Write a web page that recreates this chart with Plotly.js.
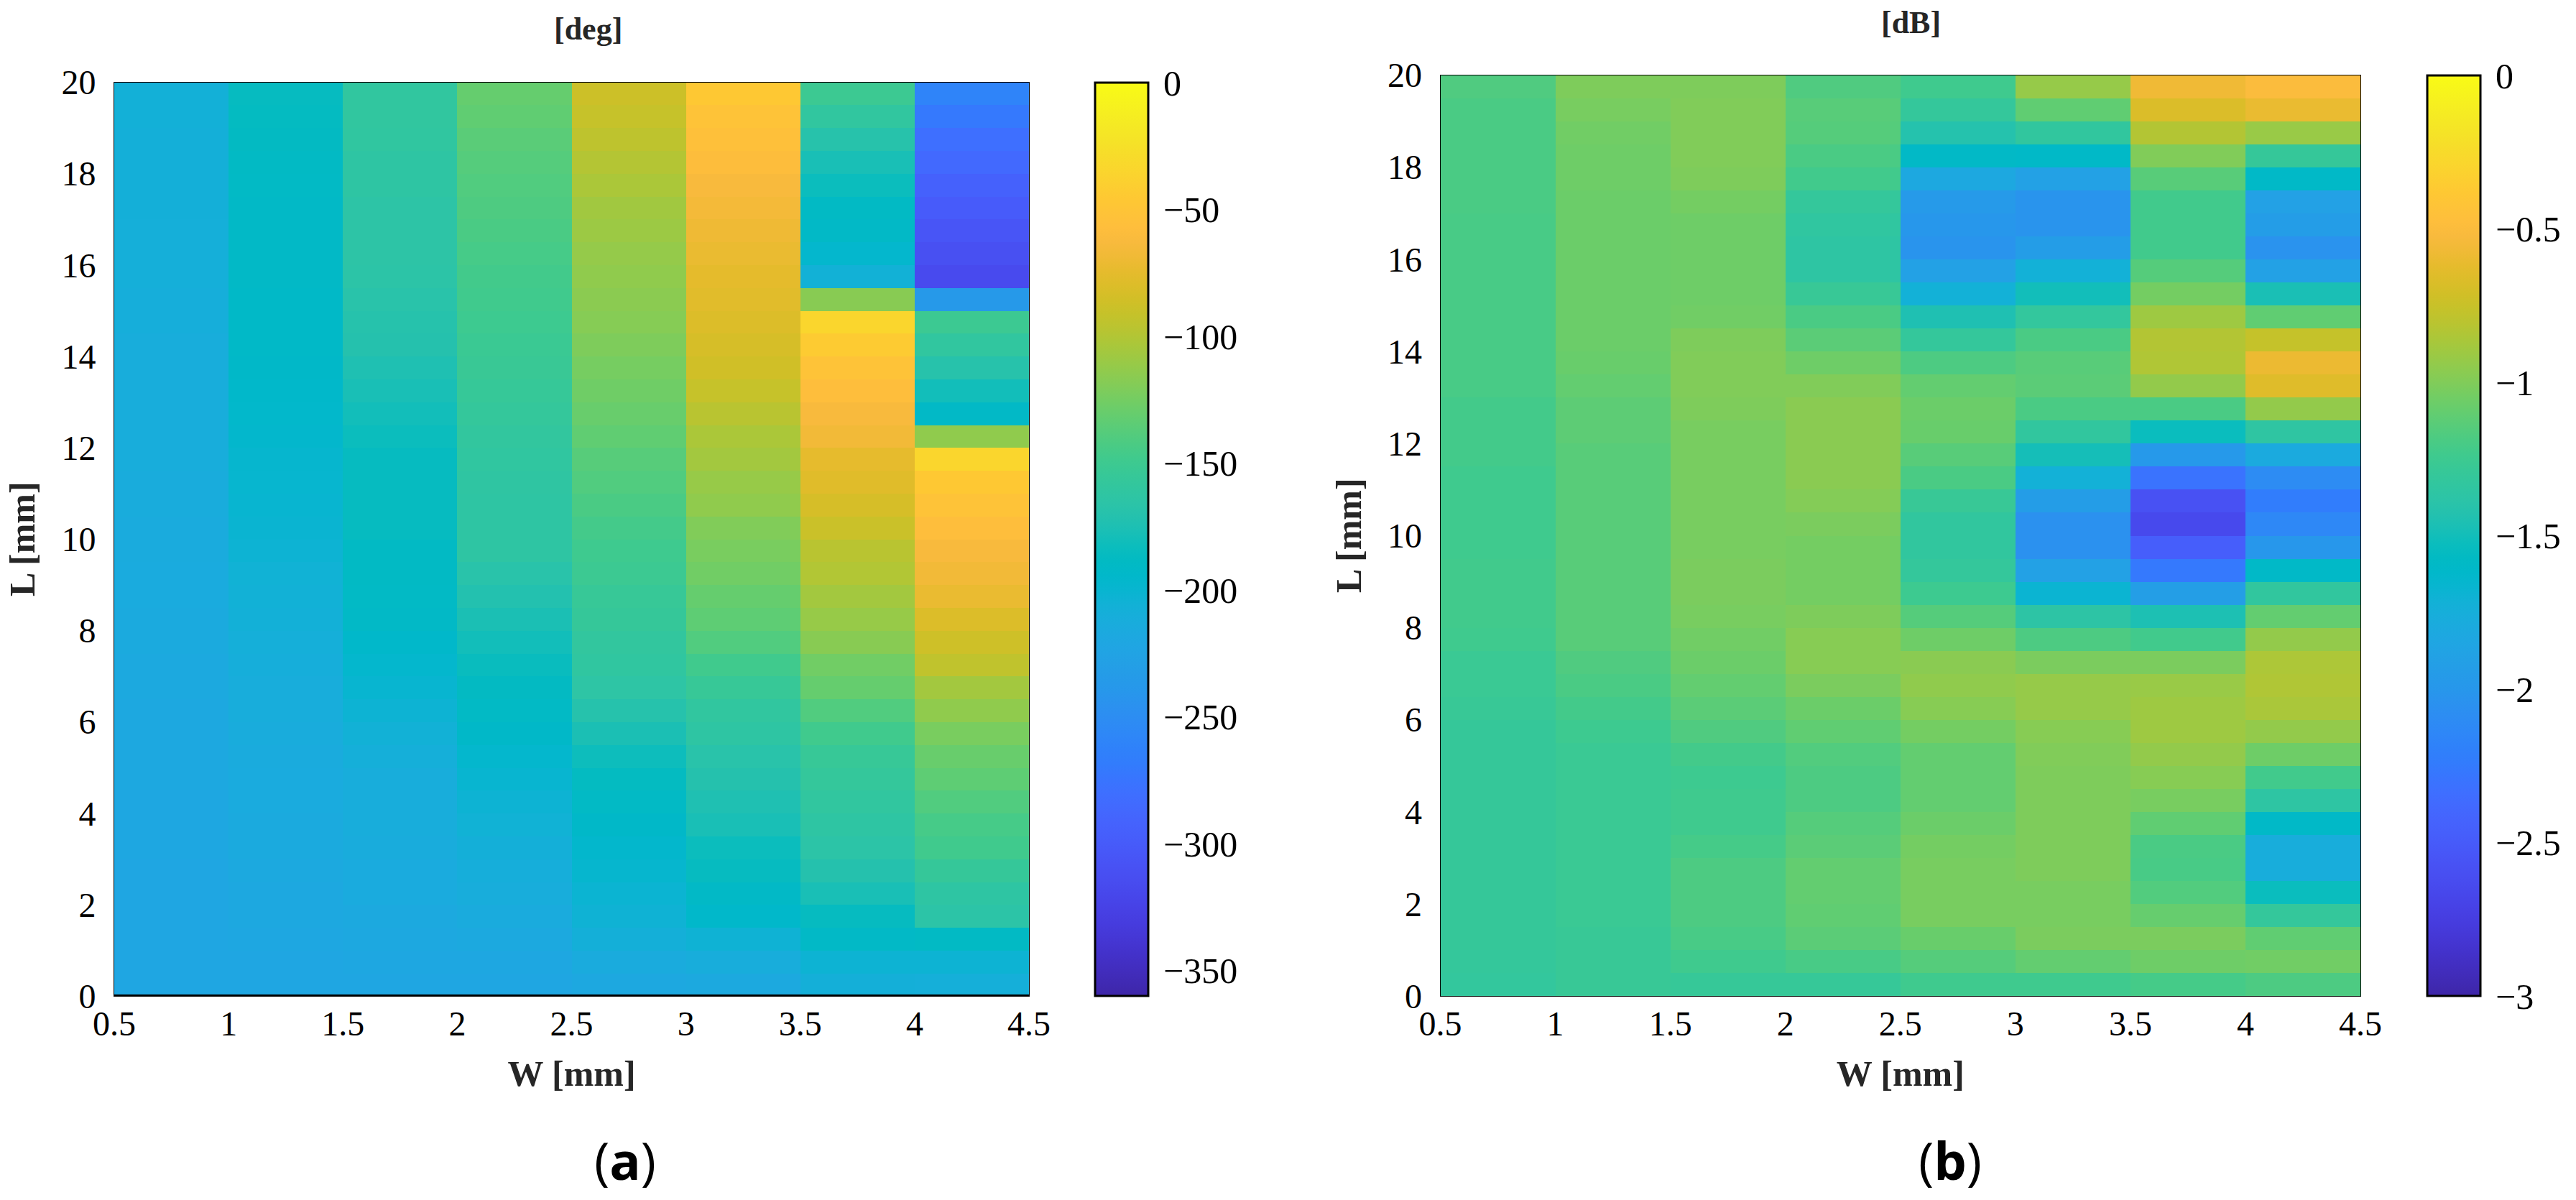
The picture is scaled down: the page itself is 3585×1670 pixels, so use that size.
<!DOCTYPE html>
<html>
<head>
<meta charset="utf-8">
<script src="https://cdn.plot.ly/plotly-3.0.1.min.js"></script>
<style>html,body{margin:0;padding:0;background:#fff}</style>
</head>
<body>
<div id="chart" style="width:3585px;height:1670px"></div>
<script>
// Cell edges
const widthEdges = [0.5,1,1.5,2,2.5,3,3.5,4,4.5];
const lengthEdges = [0,0.5,1,1.5,2,2.5,3,3.5,4,4.5,5,5.5,6,6.5,7,7.5,8,8.5,9,9.5,10,10.5,11,11.5,12,12.5,13,13.5,14,14.5,15,15.5,16,16.5,17,17.5,18,18.5,19,19.5,20];
const xTicks = [0.5,1,1.5,2,2.5,3,3.5,4,4.5];
const yTicks = [0,2,4,6,8,10,12,14,16,18,20];
const phaseTicks = [-350,-300,-250,-200,-150,-100,-50,0];
const gainTicks = [-3,-2.5,-2,-1.5,-1,-0.5,0];

// Panel (a), phase in degrees: one list per W column, from L = 20 down to L = 0
const phaseW1 = [-207,-207,-208,-208,-208,-208,-209,-209,-209,-210,-210,-211,-211,-211,-212,-212,-212,-213,-213,-214,-214,-215,-215,-216,-216,-217,-217,-218,-218,-219,-219,-220,-220,-220,-221,-221,-221,-222,-222,-222];
const phaseW2 = [-186,-187,-188,-189,-190,-191,-191,-191,-191,-192,-192,-192,-193,-194,-195,-196,-198,-199,-200,-201,-203,-205,-206,-207,-209,-210,-211,-212,-213,-214,-215,-215,-216,-216,-217,-218,-218,-220,-221,-222];
const phaseW3 = [-160,-160,-161,-163,-163,-165,-165,-165,-166,-168,-170,-171,-174,-177,-180,-183,-186,-186,-186,-186,-189,-189,-190,-191,-194,-197,-200,-203,-206,-209,-211,-211,-211,-213,-215,-215,-217,-219,-220,-221];
const phaseW4 = [-131,-133,-136,-138,-140,-141,-143,-145,-147,-148,-150,-152,-153,-155,-157,-159,-161,-162,-163,-163,-163,-168,-172,-176,-180,-184,-188,-190,-193,-197,-200,-203,-205,-208,-210,-212,-214,-217,-220,-221];
const phaseW5 = [-88,-91,-95,-99,-103,-107,-109,-112,-114,-116,-118,-121,-124,-127,-130,-133,-137,-140,-143,-146,-149,-151,-154,-156,-159,-161,-164,-170,-176,-182,-187,-190,-193,-196,-198,-202,-204,-208,-214,-219];
const phaseW6 = [-46,-51,-55,-58,-63,-66,-69,-72,-75,-77,-80,-83,-86,-91,-97,-103,-106,-111,-114,-120,-123,-126,-131,-134,-140,-148,-154,-160,-163,-168,-171,-174,-177,-183,-186,-191,-194,-204,-211,-217];
const phaseW7 = [-151,-160,-169,-177,-183,-189,-191,-197,-206,-117,-34,-43,-51,-57,-63,-67,-74,-78,-83,-89,-97,-100,-106,-111,-117,-126,-131,-140,-148,-154,-157,-160,-163,-166,-171,-177,-186,-191,-203,-208];
const phaseW8 = [-260,-271,-280,-286,-294,-300,-306,-311,-317,-237,-151,-160,-169,-180,-191,-114,-34,-46,-51,-57,-63,-67,-72,-80,-87,-94,-106,-114,-123,-130,-134,-140,-145,-148,-156,-163,-166,-189,-203,-209];

// Panel (b), magnitude in dB: one list per W column, from L = 20 down to L = 0
const gainW1 = [-1.17,-1.19,-1.19,-1.19,-1.19,-1.19,-1.2,-1.2,-1.2,-1.2,-1.2,-1.2,-1.2,-1.2,-1.22,-1.22,-1.22,-1.24,-1.24,-1.24,-1.24,-1.23,-1.23,-1.23,-1.24,-1.27,-1.27,-1.28,-1.3,-1.3,-1.3,-1.3,-1.3,-1.3,-1.3,-1.3,-1.3,-1.3,-1.31,-1.32];
const gainW2 = [-1.01,-1.03,-1.05,-1.06,-1.06,-1.07,-1.07,-1.07,-1.07,-1.07,-1.07,-1.07,-1.08,-1.1,-1.12,-1.12,-1.14,-1.14,-1.14,-1.14,-1.14,-1.14,-1.14,-1.14,-1.14,-1.17,-1.19,-1.22,-1.25,-1.27,-1.27,-1.27,-1.27,-1.27,-1.27,-1.27,-1.27,-1.28,-1.28,-1.28];
const gainW3 = [-1.01,-1,-1,-1,-1.01,-1.04,-1.06,-1.06,-1.06,-1.06,-1.05,-1.01,-1,-1,-1.01,-1.03,-1.03,-1.03,-1.03,-1.03,-1.03,-1.02,-1.02,-1.03,-1.05,-1.07,-1.1,-1.13,-1.17,-1.22,-1.25,-1.24,-1.24,-1.21,-1.18,-1.18,-1.18,-1.2,-1.24,-1.29];
const gainW4 = [-1.17,-1.14,-1.15,-1.19,-1.23,-1.31,-1.34,-1.36,-1.36,-1.28,-1.19,-1.13,-1.06,-1,-0.97,-0.97,-0.97,-0.97,-0.99,-1.02,-1.04,-1.04,-1.04,-1.01,-0.98,-0.98,-1.02,-1.07,-1.11,-1.16,-1.18,-1.18,-1.15,-1.13,-1.1,-1.1,-1.11,-1.13,-1.2,-1.29];
const gainW5 = [-1.24,-1.31,-1.42,-1.59,-1.82,-1.97,-2,-2.02,-1.9,-1.72,-1.45,-1.31,-1.18,-1.1,-1.07,-1.08,-1.14,-1.19,-1.28,-1.33,-1.33,-1.31,-1.25,-1.15,-1.06,-0.97,-0.95,-0.98,-1.04,-1.1,-1.1,-1.1,-1.07,-1.04,-1.03,-1.03,-1.03,-1.08,-1.15,-1.24];
const gainW6 = [-0.93,-1.11,-1.33,-1.6,-1.9,-2.02,-2.02,-1.93,-1.72,-1.5,-1.32,-1.19,-1.14,-1.13,-1.19,-1.33,-1.49,-1.72,-1.93,-2.05,-2.05,-1.9,-1.68,-1.37,-1.18,-1.02,-0.93,-0.93,-0.98,-1,-1.01,-1.01,-1.01,-1.01,-1.01,-1.03,-1.03,-1.02,-1.1,-1.24];
const gainW7 = [-0.57,-0.67,-0.83,-1,-1.14,-1.23,-1.23,-1.23,-1.15,-1.04,-0.9,-0.83,-0.84,-0.94,-1.19,-1.53,-1.98,-2.3,-2.58,-2.65,-2.48,-2.26,-1.92,-1.46,-1.23,-1.02,-0.92,-0.9,-0.9,-0.94,-0.98,-1.03,-1.11,-1.19,-1.2,-1.16,-1.09,-1.02,-1.06,-1.21];
const gainW8 = [-0.5,-0.6,-0.92,-1.3,-1.6,-1.9,-1.93,-2.03,-1.9,-1.47,-1.11,-0.76,-0.59,-0.65,-0.94,-1.35,-1.8,-2.1,-2.23,-2.13,-2,-1.6,-1.33,-1.1,-0.94,-0.85,-0.84,-0.86,-0.94,-1.06,-1.23,-1.36,-1.6,-1.76,-1.76,-1.53,-1.31,-1.11,-1.05,-1.18];

// MATLAB parula
const parula = [[.2422,.1504,.6603],[.2504,.165,.7076],[.2578,.1818,.7511],[.2647,.1978,.7952],[.2706,.2147,.8364],[.2751,.2342,.871],[.2783,.2559,.8991],[.2803,.2782,.9221],[.2813,.3006,.9414],[.281,.3228,.9579],[.2795,.3447,.9717],[.276,.3667,.9829],[.2699,.3892,.9906],[.2602,.4123,.9952],[.244,.4358,.9988],[.2206,.4603,.9973],[.1963,.4847,.9892],[.1834,.5074,.9798],[.1786,.5289,.9682],[.1764,.5499,.952],[.1687,.5703,.9359],[.154,.5902,.9218],[.146,.6091,.9079],[.138,.6276,.8973],[.1248,.6459,.8883],[.1113,.6635,.8763],[.0952,.6798,.8598],[.0689,.6948,.8394],[.0297,.7082,.8163],[.0036,.7203,.7917],[.0067,.7312,.766],[.0433,.7411,.7394],[.0964,.75,.712],[.1408,.7584,.6842],[.1717,.767,.6554],[.1938,.7758,.6251],[.2161,.7843,.5923],[.247,.7918,.5567],[.2906,.7973,.5188],[.3406,.8008,.4789],[.3909,.8029,.4354],[.4456,.8024,.3909],[.5044,.7993,.348],[.5616,.7942,.3045],[.6174,.7876,.2612],[.672,.7793,.2227],[.7242,.7698,.191],[.7738,.7598,.1646],[.8203,.7498,.1535],[.8634,.7406,.1596],[.9035,.733,.1774],[.9393,.7288,.21],[.9728,.7298,.2394],[.9956,.7434,.2371],[.997,.7659,.2199],[.9952,.7861,.199],[.9892,.8137,.1885],[.9786,.8386,.1766],[.9676,.8639,.1643],[.961,.889,.1537],[.9597,.9135,.1423],[.9628,.9373,.1265],[.9691,.9606,.1064],[.9769,.9839,.0805]];
const colorscale = parula.map((c,i)=>[i/(parula.length-1),'rgb('+c.map(v=>Math.round(v*255)).join(',')+')']);

const W = 3585, H = 1670;
const panels = {
  a:{x0:159,x1:1432,y0:114.5,y1:1386,cb0:1524,cb1:1598,cbTop:115},
  b:{x0:2004.5,x1:3285,y0:104.5,y1:1386,cb0:3378,cb1:3452,cbTop:105}
};
const toGrid = cols => lengthEdges.slice(1).map((_,r)=>cols.map(c=>c[c.length-1-r]));
const serif = 'Liberation Serif, Times New Roman, serif';

function heat(cols,p,zmin,zmax,ticks,xa,ya){
  return {type:'heatmap',x:widthEdges,y:lengthEdges,z:toGrid(cols),xaxis:xa,yaxis:ya,zmin:zmin,zmax:zmax,
    colorscale:colorscale,hoverongaps:false,
    colorbar:{xref:'paper',yref:'paper',x:p.cb0/W,xanchor:'left',xpad:0,ypad:0,y:1-p.cbTop/H,yanchor:'top',
      lenmode:'fraction',len:(p.y1-p.cbTop)/H,thicknessmode:'pixels',thickness:p.cb1-p.cb0,
      outlinewidth:3,outlinecolor:'#000',tickmode:'array',tickvals:ticks,ticks:'outside',ticklen:10,tickcolor:'rgba(0,0,0,0)',
      tickfont:{family:serif,size:50,color:'#000'}}};
}
function axis(dom,vals,title,standoff,anchor,labelOffset){
  return {domain:dom,range:[vals[0],vals[vals.length-1]],tickmode:'array',tickvals:vals,ticks:'',showgrid:false,zeroline:false,
    showline:true,mirror:true,linecolor:'#000',linewidth:1,anchor:anchor,ticklabelstandoff:labelOffset,
    tickfont:{family:serif,size:48,color:'#000'},
    title:{text:title,standoff:standoff,font:{family:serif,size:50,color:'#262626'}}};
}
const boldW = '<b>W [mm]</b>', boldL = '<b>L [mm]</b>';
const layout = {
  width:W,height:H,margin:{l:0,r:0,t:0,b:0,pad:0},paper_bgcolor:'#fff',plot_bgcolor:'#fff',showlegend:false,
  xaxis:axis([panels.a.x0/W,panels.a.x1/W],xTicks,boldW,26,'y',-4),
  yaxis:axis([1-panels.a.y1/H,1-panels.a.y0/H],yTicks,boldL,20,'x',15),
  xaxis2:axis([panels.b.x0/W,panels.b.x1/W],xTicks,boldW,26,'y2',-4),
  yaxis2:axis([1-panels.b.y1/H,1-panels.b.y0/H],yTicks,boldL,20,'x2',15),
  annotations:[
    {text:'<b>[deg]</b>',xref:'paper',yref:'paper',x:818/W,y:1-41/H,xanchor:'center',yanchor:'middle',showarrow:false,font:{family:serif,size:44,color:'#262626'}},
    {text:'<b>[dB]</b>',xref:'paper',yref:'paper',x:2659/W,y:1-32/H,xanchor:'center',yanchor:'middle',showarrow:false,font:{family:serif,size:44,color:'#262626'}},
    {text:'(<b>a</b>)',xref:'paper',yref:'paper',x:870/W,y:1-1614/H,xanchor:'center',yanchor:'middle',showarrow:false,font:{family:'Open Sans, sans-serif',size:72,color:'#000'}},
    {text:'(<b>b</b>)',xref:'paper',yref:'paper',x:2714/W,y:1-1614/H,xanchor:'center',yanchor:'middle',showarrow:false,font:{family:'Open Sans, sans-serif',size:72,color:'#000'}}
  ],
  shapes:[]
};
// heavier bottom frame on panel (a)
layout.shapes.push({type:'line',xref:'x',yref:'y',x0:xTicks[0],x1:xTicks[xTicks.length-1],y0:0,y1:0,line:{color:'#000',width:4}});
// MATLAB-style grey colorbar ticks on both inner sides
function cbMarks(p,ticks,zmin,zmax){
  ticks.forEach(t=>{
    if(t===zmin||t===zmax) return;
    const yy = p.cbTop + (zmax-t)/(zmax-zmin)*(p.y1-p.cbTop);
    [[p.cb0+2,p.cb0+23],[p.cb1-23,p.cb1-2]].forEach(s=>{
      layout.shapes.push({type:'line',xref:'paper',yref:'paper',x0:s[0]/W,x1:s[1]/W,y0:1-yy/H,y1:1-yy/H,line:{color:'#808080',width:1}});
    });
  });
}
cbMarks(panels.a,phaseTicks,-360,0);
cbMarks(panels.b,gainTicks,-3,0);

const data = [
  heat([phaseW1,phaseW2,phaseW3,phaseW4,phaseW5,phaseW6,phaseW7,phaseW8],panels.a,-360,0,phaseTicks,'x','y'),
  heat([gainW1,gainW2,gainW3,gainW4,gainW5,gainW6,gainW7,gainW8],panels.b,-3,0,gainTicks,'x2','y2')
];
Plotly.newPlot('chart',data,layout,{displayModeBar:false,staticPlot:true});
</script>
</body>
</html>
